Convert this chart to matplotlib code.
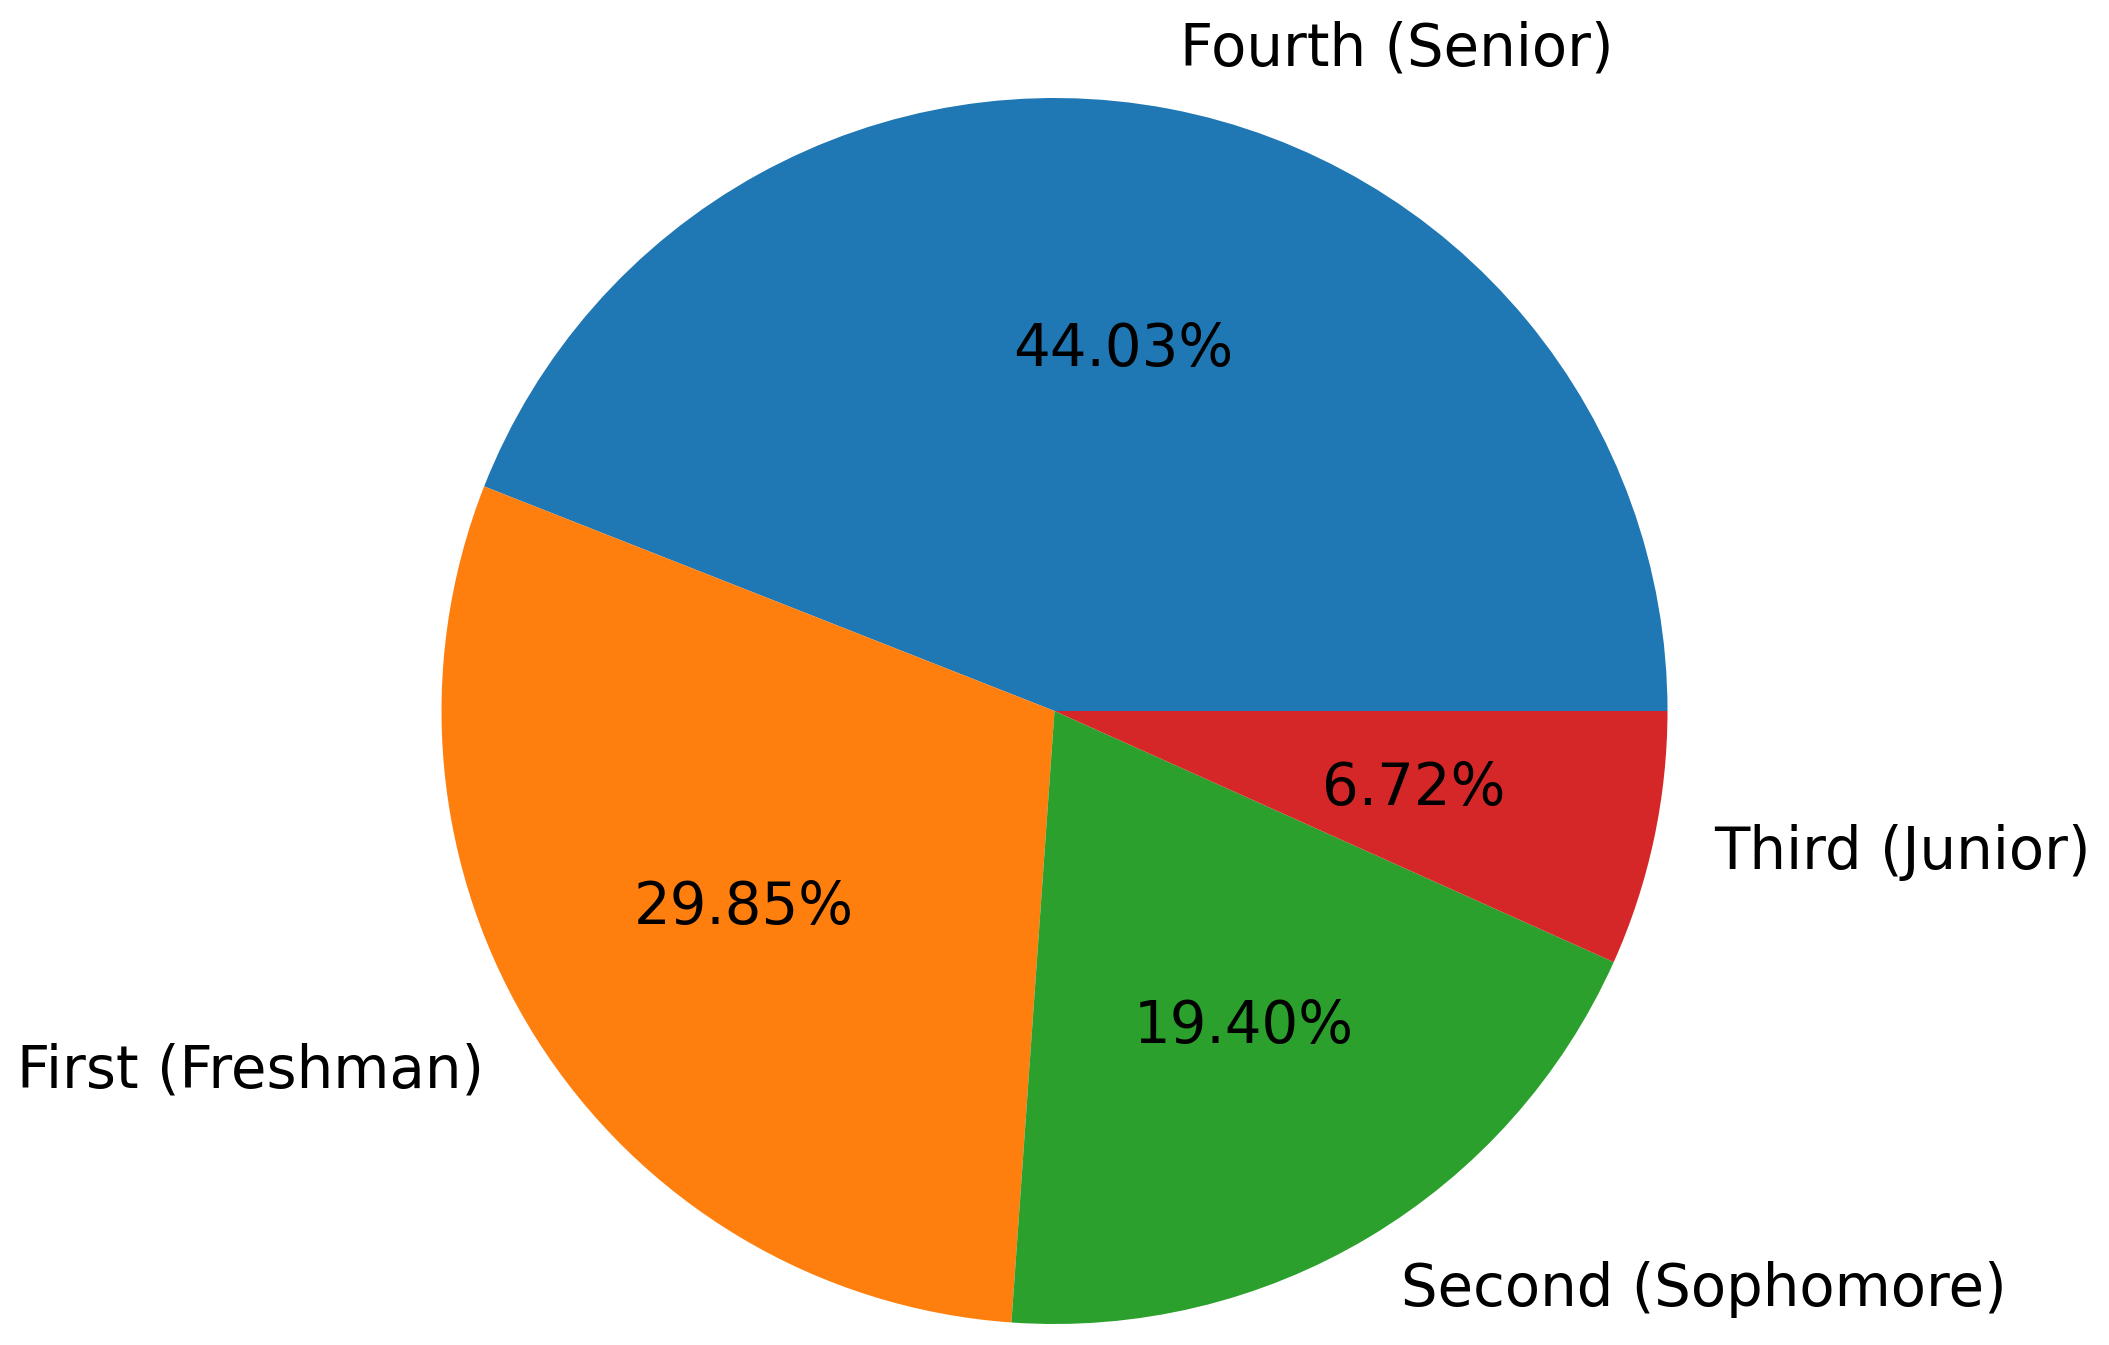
import matplotlib
matplotlib.use("Agg")
import matplotlib.pyplot as plt

labels = ["Fourth (Senior)", "First (Freshman)", "Second (Sophomore)", "Third (Junior)"]
counts = [59, 40, 26, 9]
colors = ["#1f77b4", "#ff7f0e", "#2ca02c", "#d62728"]

W, H = 2109, 1345
cx, cy, r = 1054.5, 711.0, 613.0

fig = plt.figure(figsize=(W / 100, H / 100), dpi=100)
ax = fig.add_axes([0, 0, 1, 1])
ax.pie(counts, labels=labels, colors=colors, autopct="%1.2f%%",
       textprops={"fontsize": 41.6})
ax.set_xlim(-cx / r, (W - cx) / r)
ax.set_ylim(-(H - cy) / r, cy / r)
ax.set_aspect("auto")
ax.axis("off")
fig.savefig("out.png", dpi=100)
